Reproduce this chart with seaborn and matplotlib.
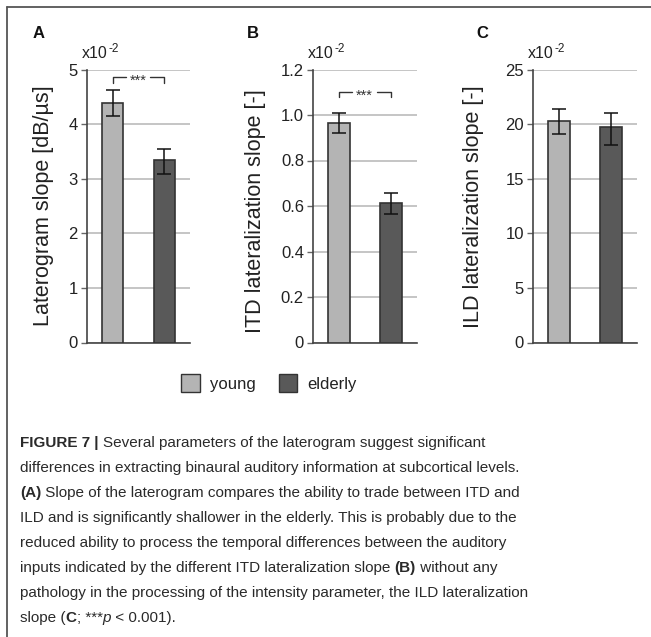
import matplotlib
matplotlib.use("Agg")
import matplotlib.pyplot as plt
from matplotlib import font_manager
from matplotlib.patches import Patch
from matplotlib.lines import Line2D
import numpy as np
import pandas as pd
import seaborn as sns

# ---------------- data ----------------
groups = ["young", "elderly"]
colors = ["#b4b4b4", "#595959"]

lat_mean = [4.38, 3.34]
lat_lo = [4.14, 3.09]
lat_hi = [4.63, 3.55]

itd_mean = [0.967, 0.613]
itd_lo = [0.919, 0.567]
itd_hi = [1.007, 0.655]

ild_mean = [20.3, 19.7]
ild_lo = [19.1, 18.1]
ild_hi = [21.4, 21.0]

lat_ticks = [0, 1, 2, 3, 4, 5]
lat_ticklabels = ["0", "1", "2", "3", "4", "5"]
itd_ticks = [0, 0.2, 0.4, 0.6, 0.8, 1.0, 1.2]
itd_ticklabels = ["0", "0.2", "0.4", "0.6", "0.8", "1.0", "1.2"]
ild_ticks = [0, 5, 10, 15, 20, 25]
ild_ticklabels = ["0", "5", "10", "15", "20", "25"]

ylabels = ["Laterogram slope [dB/\u00b5s]", "ITD lateralization slope [-]", "ILD lateralization slope [-]"]
panel_letters = ["A", "B", "C"]
sig_marks = ["***", "***", None]

caption = [
    [("FIGURE 7", "b"), (" | ", "b"), ("Several parameters of the laterogram suggest significant", "n")],
    [("differences in extracting binaural auditory information at subcortical levels.", "n")],
    [("(A)", "b"), (" Slope of the laterogram compares the ability to trade between ITD and", "n")],
    [("ILD and is significantly shallower in the elderly. This is probably due to the", "n")],
    [("reduced ability to process the temporal differences between the auditory", "n")],
    [("inputs indicated by the different ITD lateralization slope ", "n"), ("(B)", "b"), (" without any", "n")],
    [("pathology in the processing of the intensity parameter, the ILD lateralization", "n")],
    [("slope (", "n"), ("C", "b"), ("; ***", "n"), ("p", "i"), (" < 0.001).", "n")],
]

# ---------------- style ----------------
sns.set_theme(style="white")
plt.rcParams["font.family"] = ["Liberation Sans", "DejaVu Sans"]

def has_font(name):
    try:
        font_manager.findfont(font_manager.FontProperties(family=name), fallback_to_default=False)
        return True
    except Exception:
        return False

narrow = has_font("Liberation Sans Narrow")
cap_font = "Liberation Sans Narrow" if narrow else "Liberation Sans"

W, H = 651, 637
fig = plt.figure(figsize=(W / 100, H / 100), dpi=100)

def fx(px):
    return px / W

def fy(py):
    return 1 - py / H

# border (top + left)
fig.add_artist(Line2D([fx(7), fx(651)], [fy(7), fy(7)], color="#555555", lw=1.3, transform=fig.transFigure))
fig.add_artist(Line2D([fx(7), fx(7)], [fy(7), fy(637)], color="#555555", lw=1.3, transform=fig.transFigure))

panels = [
    dict(x0=87, x1=190, mean=lat_mean, lo=lat_lo, hi=lat_hi, ticks=lat_ticks, tl=lat_ticklabels,
         ymax=5, ylab_x=44, ylab_y=206, letter_x=39, x10_x=82, sig_y=4.87, sig_drop=0.11),
    dict(x0=313, x1=417, mean=itd_mean, lo=itd_lo, hi=itd_hi, ticks=itd_ticks, tl=itd_ticklabels,
         ymax=1.2, ylab_x=256, ylab_y=211, letter_x=253, x10_x=308, sig_y=1.103, sig_drop=0.026),
    dict(x0=533, x1=637, mean=ild_mean, lo=ild_lo, hi=ild_hi, ticks=ild_ticks, tl=ild_ticklabels,
         ymax=25, ylab_x=473, ylab_y=207, letter_x=482, x10_x=528, sig_y=None, sig_drop=0),
]

ytop, ybot = 69.5, 342.5
for i, p in enumerate(panels):
    ax = fig.add_axes([fx(p["x0"]), fy(ybot), fx(p["x1"] - p["x0"]), (ybot - ytop) / H])
    df = pd.DataFrame({"group": groups, "value": p["mean"]})
    sns.barplot(data=df, x="group", y="value", hue="group", palette=colors, ax=ax,
                width=0.41, edgecolor="#333333", linewidth=1.2, legend=False, errorbar=None,
                zorder=3)
    mean = np.array(p["mean"])
    yerr = np.vstack([mean - np.array(p["lo"]), np.array(p["hi"]) - mean])
    ax.errorbar([0, 1], mean, yerr=yerr, fmt="none", ecolor="#111111", elinewidth=1.1,
                capsize=5, capthick=1.1, zorder=4)
    ax.set_xlim(-0.5, 1.5)
    ax.set_ylim(0, p["ymax"])
    ax.set_yticks(p["ticks"])
    ax.set_yticklabels(p["tl"])
    ax.set_xticks([])
    ax.set_xlabel("")
    ax.set_ylabel("")
    ax.yaxis.grid(True, color="#b5b5b5", lw=1.1, zorder=0)
    ax.set_axisbelow(True)
    for s in ["top", "right"]:
        ax.spines[s].set_visible(False)
    for s in ["left", "bottom"]:
        ax.spines[s].set_color("#444444")
        ax.spines[s].set_linewidth(1.2)
    ax.tick_params(axis="y", left=True, length=4.3, width=1.0, color="#666666", pad=2.2,
                   labelsize=12, labelcolor="#222222")
    ax.patch.set_alpha(0)

    # y label
    fig.text(fx(p["ylab_x"]), fy(p["ylab_y"]), ylabels[i], rotation=90, ha="center", va="center",
             fontsize=15.5, color="#222222")
    # panel letter
    fig.text(fx(p["letter_x"]), fy(34), panel_letters[i], ha="center", va="center",
             fontsize=12, fontweight="bold", color="#111111")
    # x10^-2
    t = fig.text(fx(p["x10_x"]), fy(58), "x10", ha="left", va="baseline", fontsize=11.5, color="#222222")
    fig.canvas.draw()
    bb = t.get_window_extent()
    fig.text((bb.x1 + 0.5) / W, fy(52), "-2", ha="left", va="baseline", fontsize=8.5, color="#222222")

    # significance bracket
    if sig_marks[i]:
        y0 = p["sig_y"]
        yd = y0 - p["sig_drop"]
        ax.plot([0, 0, 0.25], [yd, y0, y0], color="#333333", lw=1.0, clip_on=False, zorder=5)
        ax.plot([0.73, 1, 1], [y0, y0, yd], color="#333333", lw=1.0, clip_on=False, zorder=5)
        fs = 10.5
        ax.annotate(sig_marks[i], xy=(0.49, y0), xytext=(0, -0.58 * fs), textcoords="offset points",
                    ha="center", va="baseline", fontsize=fs, color="#333333")

# legend
handles = [Patch(facecolor=c, edgecolor="#333333", linewidth=1.0) for c in colors]
fig.legend(handles, groups, loc="center", bbox_to_anchor=(fx(269), fy(383)), ncol=2, frameon=False,
           handlelength=1.1, handleheight=1.25, handletextpad=0.6, columnspacing=1.4,
           prop={"size": 12}, labelcolor="#222222")

# caption
fig.canvas.draw()
renderer = fig.canvas.get_renderer()

def style_kw(s):
    if s == "b":
        return dict(fontweight="bold")
    if s == "i":
        return dict(fontstyle="italic")
    return {}

# fit size to line 2 width
target = 470.0 if narrow else 500.0
probe = fig.text(0, 0, caption[1][0][0], fontsize=12, family=[cap_font, "DejaVu Sans"])
fig.canvas.draw()
wprobe = probe.get_window_extent(renderer).width
probe.remove()
cap_size = 12 * target / wprobe

baselines = [447 + 25.05 * k for k in range(len(caption))]
for line, by in zip(caption, baselines):
    xpix = 20.0
    for txt, st in line:
        tt = fig.text(xpix / W, fy(by), txt, ha="left", va="baseline", fontsize=cap_size,
                      family=[cap_font, "DejaVu Sans"], color="#2a2a2a", **style_kw(st))
        ext = tt.get_window_extent(renderer)
        xpix += ext.width

fig.savefig("out.png", dpi=100)
